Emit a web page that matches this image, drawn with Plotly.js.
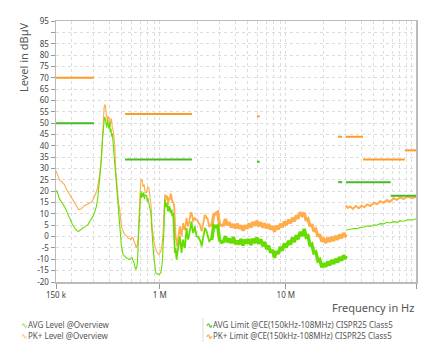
<!DOCTYPE html>
<html>
<head>
<meta charset="utf-8">
<script src="https://cdn.plot.ly/plotly-3.0.1.min.js"></script>
<style>html,body{margin:0;padding:0;background:#fff;}#chart{width:429px;height:355px;}</style>
</head>
<body>
<div id="chart"></div>
<script>
// ---------------- DATA ----------------
// AVG Level @Overview (dBµV), split by measurement region
const avgFreqA = [150e3,155e3,160e3,168e3,175e3,183e3,192e3,201e3,211e3,220e3,227e3,236e3,245e3,255e3,262e3,269e3,280e3,287e3,295e3,305e3,314e3,322e3,329e3,335e3,340e3,350e3,356e3,361e3,366e3,371e3,375e3,380e3,385e3,390e3,395e3,400e3,405e3,410e3,415e3,420e3,425e3,430e3,435e3,441e3,447e3,456e3,466e3,481e3,496e3,511e3,527e3,544e3,560e3,577e3,590e3,602e3,613e3,625e3,636e3,645e3,655e3,665e3,675e3,685e3,694e3,700e3,708e3,716e3,723e3,735e3,745e3,755e3,765e3,784e3,795e3,805e3,818e3,830e3,849e3,860e3,869e3,885e3,901e3,915e3,930e3,955e3,982e3,1.0e6,1.019e6,1.035e6,1.051e6,1.063e6,1.082e6,1.096e6];
const avgLevelA = [20.5,19,16.5,15,13.3,11,8.2,5.8,3.8,2.6,2.3,3.2,3.8,4.4,4.8,5.3,7,7.8,8.9,11,13.3,17,22.2,27,31,42,48,50.8,52.8,51.5,49.3,48,51.5,49,47.5,50.5,46,47.5,44,45.5,42,41,37,31,25.9,20,14,4.5,-4.2,-7.9,-8.8,-9.4,-9.8,-10.1,-9.5,-9.4,-10.5,-11.6,-13.5,-14.5,-13.5,-11.6,-2,8,11.9,16,20,17,19.3,17.5,19.5,16.5,18.5,18,15.5,17,14.8,12.5,10.4,5,0.1,-5,-10.1,-13.5,-16,-16.5,-16.7,-16.3,-16,-13.5,-10,-3,4.5,16.3];
const avgFreqB = [1.096e6,1.11e6,1.131e6,1.148e6,1.165e6,1.183e6,1.201e6,1.22e6,1.239e6,1.258e6,1.276e6,1.29e6,1.317e6,1.334e6,1.358e6,1.373e6,1.398e6,1.416e6,1.443e6,1.461e6,1.488e6,1.505e6,1.533e6,1.553e6,1.582e6,1.611e6,1.632e6,1.65e6,1.68e6,1.711e6,1.733e6,1.76e6,1.788e6,1.81e6,1.841e6,1.87e6,1.899e6,1.93e6,1.959e6,2.02e6,2.082e6,2.12e6,2.148e6,2.18e6,2.211e6,2.25e6,2.281e6,2.32e6,2.353e6,2.41e6,2.469e6,2.52e6,2.58e6];
const avgLevelB = [16.3,13,14.8,12,11.1,13.5,12.6,10.5,11.9,9,10.4,5,-7.2,-5,-10.1,-8,-5.7,-3,0.1,-4,-7.2,-3.5,-1.3,-4,-5,0,3.8,1,-1.3,1,2.3,4.5,6.7,3.5,1.6,3,4.5,2,0.1,0,-1.3,-2.5,-4.3,-2,-0.6,2,3.8,3,2.3,0,-2,-1.5,-0.6];
const avgFreqC = [2.58e6,2.68e6,2.78e6,2.88e6,2.98e6,3.09e6,3.2e6,3.32e6,3.44e6,3.56e6,3.69e6,3.83e6,3.97e6,4.11e6,4.26e6,4.42e6,4.58e6,4.75e6,4.92e6,5.1e6,5.29e6,5.48e6,5.68e6,5.89e6,6.1e6,6.33e6,6.56e6,6.8e6,7.05e6,7.3e6,7.57e6,7.85e6,8.13e6,8.43e6,8.74e6,9.06e6,9.39e6,9.73e6,10.1e6,10.5e6,10.9e6,11.3e6,11.7e6,12.1e6,12.5e6,13.0e6,13.5e6,14.0e6,14.5e6,15.0e6,15.6e6,16.1e6,16.7e6,17.3e6,18.0e6,18.6e6,19.3e6,20.0e6,20.8e6,21.5e6,22.3e6,23.1e6,24.0e6,24.9e6,25.8e6,26.7e6,27.7e6,28.7e6,29.7e6,30.0e6];
const avgLevelC = [-1.5,4.8,4.3,4.8,-1.5,-2.5,-2.2,0.2,-2.5,-0.9,-2.9,-0.2,-3.3,-1.8,-3.4,-1.0,-3.9,-1.3,-3.1,-1.1,-3.7,-0.9,-2.9,-0.4,-3.1,-1.2,-4.2,-2.4,-5.5,-4.0,-7.0,-5.9,-9.3,-6.4,-7.6,-4.5,-6.2,-3.0,-4.8,-1.9,-3.5,-0.4,-2.4,0.6,-1.2,2.0,0.3,3.4,-0.2,0.3,-4.1,-3.4,-7.1,-6.7,-10.7,-10.1,-13.5,-11.8,-13.3,-11.0,-12.7,-10.3,-12.0,-9.8,-11.4,-9.0,-10.6,-8.2,-9.8,-8.5];
const avgFreqD = [30.02e6,32.5e6,34.5e6,36.7e6,39e6,42e6,44e6,46.9e6,50e6,53e6,56e6,59.8e6,63.6e6,67e6,71.8e6,76.4e6,81e6,86.2e6,93e6,100e6,108e6];
const avgLevelD = [2.8,3.1,3.6,3.5,4.0,4.2,4.8,4.5,5.2,5.0,5.7,5.6,6.3,6.0,6.6,6.3,7.0,6.8,7.4,7.3,7.8];

// PK+ Level @Overview (dBµV)
const pkFreqA = [150e3,155e3,160e3,168e3,175e3,183e3,192e3,201e3,211e3,220e3,227e3,238e3,250e3,261e3,275e3,286e3,296e3,304e3,313e3,320e3,327e3,334e3,344e3,350e3,355e3,361e3,366e3,370e3,375e3,379e3,384e3,389e3,394e3,400e3,404e3,409e3,414e3,420e3,428e3,433e3,439e3,446e3,452e3,462e3,470e3,481e3,496e3,511e3,527e3,544e3,560e3,577e3,588e3,602e3,613e3,632e3,653e3,665e3,672e3,694e3,708e3,723e3,735e3,750e3,765e3,784e3,800e3,818e3,835e3,849e3,869e3,901e3,942e3,982e3,1.0e6,1.019e6,1.04e6,1.063e6,1.08e6,1.1e6];
const pkLevelA = [29,27,25,24,22.9,20.5,18.5,16.5,14.8,12.8,11.9,12.3,13.5,14,14.5,15.1,16.5,17.8,19.5,21.4,24.5,28,34,45,51,56.7,58,57.8,54.5,53,50.8,53,52.3,49.5,48.6,52,51.5,48,46.4,43,40.5,30,25.9,19,15,11.9,4.5,2.5,0.9,0.3,-0.6,-0.8,-1.3,-0.3,-0.6,-2.8,-5,-3,-1.3,16.3,25,25.1,22,23,19.5,19.3,22,21.4,17,14.8,4.5,-2.8,-6.5,-7.9,-7.2,-6.5,-4,2,12,18.5];
const pkFreqB = [1.1e6,1.131e6,1.148e6,1.165e6,1.183e6,1.201e6,1.22e6,1.239e6,1.258e6,1.276e6,1.3e6,1.317e6,1.334e6,1.358e6,1.373e6,1.398e6,1.416e6,1.443e6,1.461e6,1.488e6,1.505e6,1.533e6,1.553e6,1.582e6,1.611e6,1.632e6,1.65e6,1.68e6,1.711e6,1.733e6,1.76e6,1.788e6,1.81e6,1.841e6,1.87e6,1.899e6,1.93e6,1.981e6,2.03e6,2.082e6,2.148e6,2.211e6,2.281e6,2.353e6,2.38e6,2.469e6,2.58e6];
const pkLevelB = [18.5,16.3,18,14,17,16.3,19,17.8,15,15.5,13.3,6,0.1,-2,-4.3,-1,1.6,4.5,2,0.1,3,6,3.5,3,6,8.2,6,4.5,6.5,8,10.4,10.4,8,6.7,8,8.2,7.5,7.5,6,5.3,2.3,5.3,9.7,8.2,8.5,4.5,5.3];
const pkFreqC = [2.58e6,2.68e6,2.78e6,2.88e6,2.98e6,3.09e6,3.2e6,3.32e6,3.44e6,3.56e6,3.69e6,3.83e6,3.97e6,4.11e6,4.26e6,4.42e6,4.58e6,4.75e6,4.92e6,5.1e6,5.29e6,5.48e6,5.68e6,5.89e6,6.1e6,6.33e6,6.56e6,6.8e6,7.05e6,7.3e6,7.57e6,7.85e6,8.13e6,8.43e6,8.74e6,9.06e6,9.39e6,9.73e6,10.1e6,10.5e6,10.9e6,11.3e6,11.7e6,12.1e6,12.5e6,13.0e6,13.5e6,14.0e6,14.5e6,15.0e6,15.6e6,16.1e6,16.7e6,17.3e6,18.0e6,18.6e6,19.3e6,20.0e6,20.8e6,21.5e6,22.3e6,23.1e6,24.0e6,24.9e6,25.8e6,26.7e6,27.7e6,28.7e6,29.7e6,30.0e6];
const pkLevelC = [4.3,9.5,10.1,10.7,5.0,5.0,5.0,7.8,5.0,6.3,4.0,5.5,3.6,5.8,3.5,5.0,2.6,5.0,3.5,5.8,4.0,6.4,4.8,7.0,4.6,6.3,4.0,5.8,3.6,5.5,3.2,4.6,2.1,4.8,3.3,5.6,4.1,6.6,5.0,7.4,5.9,8.3,6.8,9.3,7.9,10.7,9.3,10.5,7.0,7.8,4.5,5.5,2.3,3.2,0.0,1.0,-2.2,-1.0,-2.8,-0.5,-2.3,-0.1,-1.9,0.3,-1.4,0.9,-0.7,1.6,-0.1,1.0];
const pkFreqD = [30.02e6,31e6,32.5e6,34e6,36e6,38e6,40e6,42e6,44e6,46.9e6,50e6,53e6,56e6,59.8e6,63.6e6,67e6,71.8e6,76e6,81e6,86.2e6,93e6,100e6,108e6];
const pkLevelD = [13.8,12.6,13.3,12.2,13.5,12.5,13.6,12.9,14.2,13.5,14.9,14.3,15.6,14.9,16.1,15.3,16.9,16.2,17.3,16.6,17.6,16.9,17.5];

// Limits @CE(150kHz-108MHz) CISPR25 Class5
const avgLimitFreq  = [150e3,300e3,null,530e3,1.8e6,null,5.9e6,6.2e6,null,26e6,28e6,null,30e6,68e6,null,68e6,108e6];
const avgLimitLevel = [50,50,null,34,34,null,33,33,null,24,24,null,24,24,null,18,18];
const pkLimitFreq   = [150e3,300e3,null,530e3,1.8e6,null,5.9e6,6.2e6,null,26e6,28e6,null,30e6,41e6,null,41e6,88e6,null,88e6,108e6];
const pkLimitLevel  = [70,70,null,54,54,null,53,53,null,44,44,null,44,44,null,34,34,null,38,38];

// Axes
const xTickVals   = [150e3, 1e6, 10e6, 108e6];
const xTickLabels = ['150 k', '1 M', '10 M', '108 M'];
const xGridVals   = [2e5,3e5,4e5,5e5,6e5,7e5,8e5,9e5,2e6,3e6,4e6,5e6,6e6,7e6,8e6,9e6,2e7,3e7,4e7,5e7,6e7,7e7,8e7,9e7,1e8];
const yTickVals   = [-20,-15,-10,-5,0,5,10,15,20,25,30,35,40,45,50,55,60,65,70,75,80,85,90,95];
const yTickLabels = ['-20','-15','-10','-5','0','5','10','15','20','25','30','35','40','45','50','55','60','65','70','75','80','85','','95'];

const seriesNames = ['AVG Level @Overview','PK+ Level @Overview','AVG Limit @CE(150kHz-108MHz) CISPR25 Class5','PK+ Limit @CE(150kHz-108MHz) CISPR25 Class5'];

// ---------------- STYLE ----------------
const cAvg = '#66dd00', cPk = '#ffac4a', cAvgLim = '#44bb22', cPkLim = '#ff9a26';
const FONT = 'Noto Sans, Open Sans, sans-serif';

function seg(x, y, color, width, name) {
  return {x: x, y: y, type: 'scatter', mode: 'lines', name: name, showlegend: false,
          line: {color: color, width: width}, hoverinfo: 'skip'};
}
const traces = [
  seg(pkFreqA, pkLevelA, cPk, 1.1, seriesNames[1]),
  seg(pkFreqB, pkLevelB, cPk, 1.8, seriesNames[1]),
  seg(pkFreqC, pkLevelC, cPk, 3.2, seriesNames[1]),
  seg(pkFreqD, pkLevelD, cPk, 2, seriesNames[1]),
  seg(avgFreqA, avgLevelA, cAvg, 1.1, seriesNames[0]),
  seg(avgFreqB, avgLevelB, cAvg, 1.8, seriesNames[0]),
  seg(avgFreqC, avgLevelC, cAvg, 3.4, seriesNames[0]),
  seg(avgFreqD, avgLevelD, cAvg, 1.1, seriesNames[0]),
  seg(avgLimitFreq, avgLimitLevel, cAvgLim, 2, seriesNames[2]),
  seg(pkLimitFreq, pkLimitLevel, cPkLim, 2, seriesNames[3])
];

const W = 429, H = 355, M = {l: 56, r: 13, t: 21, b: 73};
const pw = W - M.l - M.r, ph = H - M.t - M.b;
const px = v => (v - M.l) / pw;
const py = v => (H - M.b - v) / ph;

const legendItems = [
  {name: seriesNames[0], color: cAvg, x: 19, y: 324, bold: false},
  {name: seriesNames[1], color: cPk, x: 19, y: 335, bold: false},
  {name: seriesNames[2], color: cAvgLim, x: 204, y: 324, bold: true},
  {name: seriesNames[3], color: cPkLim, x: 204, y: 335, bold: true}
];
const annotations = legendItems.map(it => ({
  xref: 'paper', yref: 'paper', x: px(it.x), y: py(it.y), xanchor: 'left', yanchor: 'middle',
  showarrow: false,
  text: '<span style="color:' + it.color + '">' + (it.bold ? '<b>∿</b>' : '∿') + '</span>' + it.name,
  font: {family: FONT, size: 8, color: '#555'}
}));
annotations.push({xref: 'paper', yref: 'paper', x: 1, y: py(307), xanchor: 'right', yanchor: 'middle',
  showarrow: false, text: 'Frequency in Hz', font: {family: FONT, size: 11, color: '#555'}});
annotations.push({xref: 'paper', yref: 'paper', x: px(23), y: py(57), xanchor: 'center', yanchor: 'middle',
  showarrow: false, textangle: -90, text: 'Level in dBµV', font: {family: FONT, size: 11, color: '#555'}});

const layout = {
  width: W, height: H, margin: M,
  paper_bgcolor: '#fff', plot_bgcolor: '#fff',
  showlegend: false,
  font: {family: FONT, color: '#444'},
  xaxis: {
    type: 'log', range: [Math.log10(150e3), Math.log10(108e6)],
    tickmode: 'array', tickvals: xTickVals,
    ticktext: xTickLabels.map((t, i) => i === xTickLabels.length - 1 ? t + '\u00a0'.repeat(7) : t),
    ticks: 'outside', ticklen: 5, tickcolor: '#999',
    tickfont: {family: FONT, size: 8, color: '#444'},
    showline: true, linecolor: '#bbb', linewidth: 1.5, mirror: true,
    showgrid: true, gridcolor: '#ddd', griddash: 'dot', gridwidth: 1,
    minor: {tickmode: 'array', tickvals: xGridVals, showgrid: true, gridcolor: '#ddd', griddash: 'dot', ticks: ''},
    zeroline: false
  },
  yaxis: {
    range: [-20, 95], tickmode: 'array', tickvals: yTickVals, ticktext: yTickLabels,
    ticks: 'outside', ticklen: 4, tickcolor: '#999',
    tickfont: {family: FONT, size: 8, color: '#444'},
    showline: true, linecolor: '#bbb', linewidth: 1.5, mirror: true,
    showgrid: true, gridcolor: '#ddd', griddash: 'dot', gridwidth: 1,
    zeroline: false
  },
  annotations: annotations,
  shapes: [{type: 'line', xref: 'paper', yref: 'paper', x0: px(203), x1: px(203), y0: py(318), y1: py(342),
            line: {color: '#ddd', width: 1}}]
};
Plotly.newPlot('chart', traces, layout, {staticPlot: true, displayModeBar: false});
</script>
</body>
</html>
